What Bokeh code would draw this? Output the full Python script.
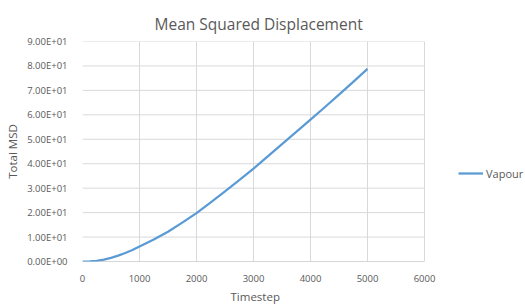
from bokeh.plotting import figure
from bokeh.models import (Legend, LegendItem, CustomJSTickFormatter, FixedTicker,
                          Range1d, ColumnDataSource, Title)
from bokeh.embed import file_html
from bokeh.resources import INLINE

timestep = [0, 125, 250, 375, 500, 625, 750, 875, 1000, 1250, 1500, 1750, 2000,
            2250, 2500, 2750, 3000, 3250, 3500, 3750, 4000, 4250, 4500, 4750, 5000]
msd = [0.0, 0.07, 0.3, 0.8, 1.5, 2.4, 3.5, 4.7, 6.1, 9.0, 12.2, 15.9, 19.8,
       24.2, 28.7, 33.3, 38.0, 43.0, 48.0, 53.0, 58.0, 63.1, 68.3, 73.5, 78.8]
x_ticks = [0, 1000, 2000, 3000, 4000, 5000, 6000]
y_ticks = [0, 10, 20, 30, 40, 50, 60, 70, 80, 90]
series_name = "Vapour"

FONT = "Open Sans"
GREY = "#595959"
W, H = 525, 306
LEFT, AXIS_RIGHT = 82, 424          # pixel positions of x=0 and x=6000
x_min, x_max = x_ticks[0], x_ticks[-1]
x_end = x_min + (x_max - x_min) * (W - LEFT) / (AXIS_RIGHT - LEFT)

p = figure(width=W, height=H, output_backend="svg", toolbar_location=None,
           x_range=Range1d(x_min, x_end), y_range=Range1d(y_ticks[0], y_ticks[-1]),
           min_border_left=LEFT, min_border_right=0, min_border_top=41,
           min_border_bottom=45)
p.outline_line_color = None
p.background_fill_color = "white"
p.border_fill_color = "white"

p.title.text = "Mean Squared Displacement"
p.title.align = "left"
p.title.vertical_align = "top"
p.title.text_font = FONT
p.title.text_font_size = "15.5px"
p.title.text_font_style = "normal"
p.title.text_color = GREY
p.title.offset = 72
p.title.standoff = 10

# horizontal gridlines only across the axis extent
p.segment(x0=[x_min] * len(y_ticks), x1=[x_max] * len(y_ticks),
          y0=y_ticks, y1=y_ticks, line_color="#D9D9D9", line_width=1)
# x axis baseline
p.segment(x0=[x_min], x1=[x_max], y0=[y_ticks[0]], y1=[y_ticks[0]],
          line_color="#BFBFBF", line_width=1)

src = ColumnDataSource(dict(x=timestep, y=msd))
r = p.line("x", "y", source=src, line_color="#5B9BD5", line_width=2.25,
           line_join="round")

p.xaxis.ticker = FixedTicker(ticks=x_ticks)
p.yaxis.ticker = FixedTicker(ticks=y_ticks)
p.yaxis.formatter = CustomJSTickFormatter(code="""
let s = tick.toExponential(2).toUpperCase();
return s.replace(/E([+-])(\\d)$/, 'E$10$2');
""")
for ax in (p.xaxis[0], p.yaxis[0]):
    ax.major_tick_line_color = None
    ax.minor_tick_line_color = None
    ax.axis_line_color = None
    ax.major_label_text_font = FONT
    ax.major_label_text_font_size = "9.5px"
    ax.major_label_text_color = GREY
    ax.axis_label_text_font = FONT
    ax.axis_label_text_font_size = "11.5px"
    ax.axis_label_text_font_style = "normal"
    ax.axis_label_text_color = GREY
p.yaxis.axis_label = "Total MSD"
p.xaxis.major_label_standoff = 7
p.yaxis.major_label_standoff = 9
p.yaxis.axis_label_standoff = 4

xlab = Title(text="Timestep", align="left", offset=148, text_font=FONT,
             text_font_size="11.5px", text_font_style="normal", text_color=GREY,
             standoff=4)
p.add_layout(xlab, "below")

p.xgrid.grid_line_color = "#D9D9D9"
p.ygrid.grid_line_color = None

legend = Legend(items=[LegendItem(label=series_name, renderers=[r])],
                location=(376, 78), padding=0, margin=0, border_line_color=None,
                background_fill_alpha=0, glyph_width=25, glyph_height=20,
                label_standoff=3, label_text_font=FONT, label_text_font_size="11px",
                label_text_color=GREY)
p.add_layout(legend, "center")

open("out.html", "w").write(file_html(p, INLINE))
